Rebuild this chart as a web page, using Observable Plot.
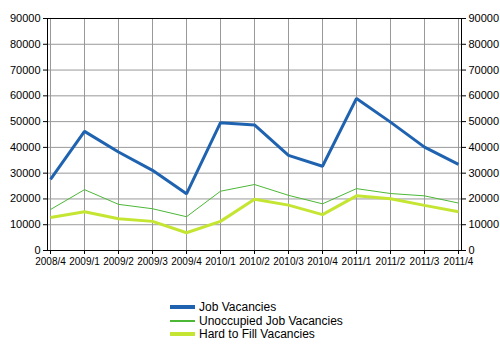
<!DOCTYPE html>
<html>
<head>
<meta charset="utf-8">
<script src="https://cdn.jsdelivr.net/npm/d3@7"></script>
<script src="https://cdn.jsdelivr.net/npm/@observablehq/plot@0.6"></script>
<style>
  body { margin: 0; background: #fff; font-family: "Liberation Sans", Arial, sans-serif; }
  #wrap { position: relative; width: 500px; height: 350px; }
  #legend { position: absolute; left: 170px; top: 300px; font-size: 12px; color: #000; }
  .row { display: flex; align-items: center; height: 13.7px; }
  .sw { width: 25px; margin-right: 4px; }
</style>
</head>
<body>
<div id="wrap"><div id="chart"></div><div id="legend"></div></div>
<script>
const quarters = ["2008/4","2009/1","2009/2","2009/3","2009/4","2010/1","2010/2","2010/3","2010/4","2011/1","2011/2","2011/3","2011/4"];
const jobVacancies = [27600,46200,38200,31100,22000,49600,48700,36900,32700,59000,49800,40100,33400];
const unoccupied = [15900,23600,17900,16200,13100,23000,25600,21400,18100,24000,22100,21200,18400];
const hardToFill = [12800,15000,12300,11300,6900,11300,19900,17600,13900,21200,20100,17500,15000];
const seriesNames = ["Job Vacancies","Unoccupied Job Vacancies","Hard to Fill Vacancies"];
const seriesColors = ["#1f63b0","#4cb836","#c4e633"];
const seriesWidths = [3,1,3];
const yTicks = [0,10000,20000,30000,40000,50000,60000,70000,80000,90000];

const seriesValues = [jobVacancies, unoccupied, hardToFill];
const rows = [];
seriesValues.forEach((vals, s) => vals.forEach((v, i) => rows.push({q: quarters[i], v, s: seriesNames[s]})));

const chart = Plot.plot({
  width: 500,
  height: 275,
  marginLeft: 47,
  marginRight: 39,
  marginTop: 18,
  marginBottom: 25,
  style: {fontFamily: "Liberation Sans, Arial, sans-serif", background: "#fff", color: "#000"},
  x: {type: "point", domain: quarters, padding: 0, label: null},
  y: {domain: [0, 90000], label: null},
  marks: [
    Plot.ruleX(quarters, {x: d => d, stroke: "#999", strokeWidth: 1}),
    Plot.ruleY(yTicks, {y: d => d, stroke: "#999", strokeWidth: 1}),
    Plot.axisY(yTicks, {anchor: "left", tickSize: 4, tickPadding: 3, fontSize: 11, tickFormat: d => String(d), label: null, stroke: "#000"}),
    Plot.axisY(yTicks, {anchor: "right", tickSize: 4, tickPadding: 3, fontSize: 11, tickFormat: d => String(d), label: null, stroke: "#000"}),
    Plot.axisX(quarters, {anchor: "bottom", tickSize: 4, tickPadding: 3, fontSize: 10, label: null, stroke: "#000"}),
    Plot.frame({stroke: "#000", strokeWidth: 1}),
    ...seriesNames.map((name, s) => Plot.line(rows.filter(r => r.s === name), {
      x: "q", y: "v", stroke: seriesColors[s], strokeWidth: seriesWidths[s], strokeLinejoin: "miter", strokeLinecap: "butt"
    }))
  ]
});
document.getElementById("chart").appendChild(chart);

const legend = document.getElementById("legend");
seriesNames.forEach((name, s) => {
  const row = document.createElement("div");
  row.className = "row";
  const sw = document.createElement("div");
  sw.className = "sw";
  sw.style.height = (seriesWidths[s] === 1 ? 2 : 4) + "px";
  sw.style.background = seriesColors[s];
  const t = document.createElement("span");
  t.textContent = name;
  row.appendChild(sw); row.appendChild(t);
  legend.appendChild(row);
});
</script>
</body>
</html>
